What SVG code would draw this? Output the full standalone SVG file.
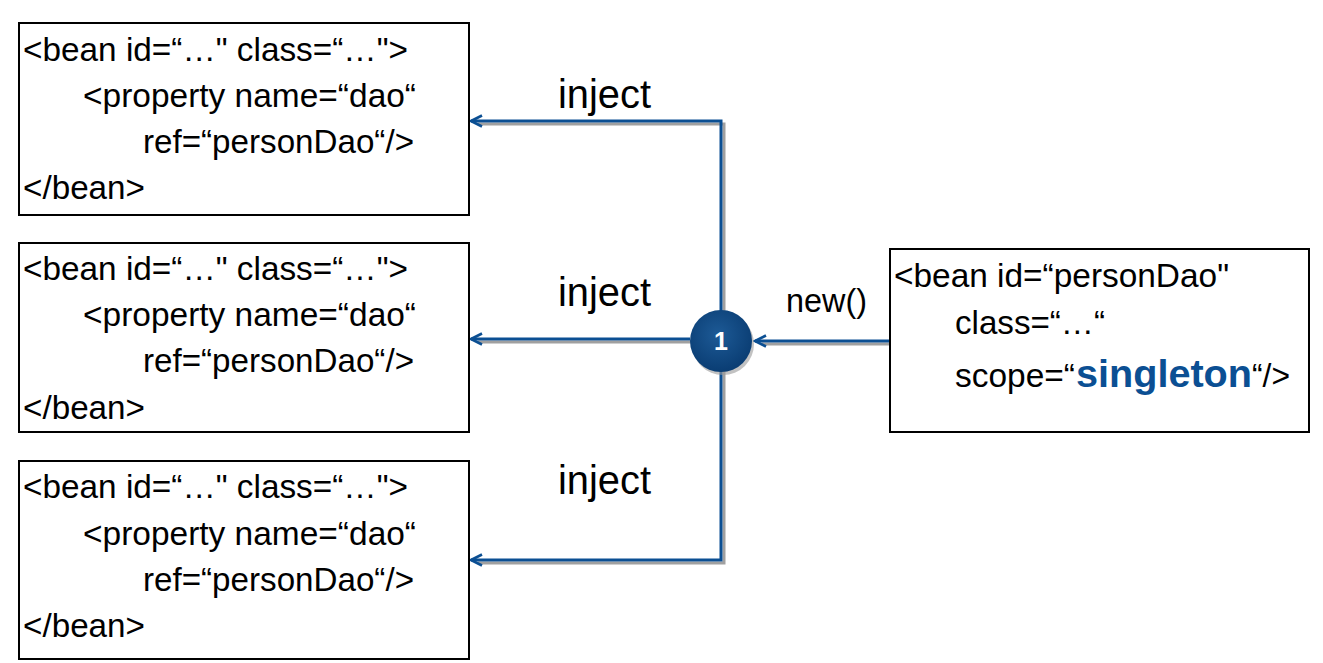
<svg xmlns="http://www.w3.org/2000/svg" width="1323" height="663" viewBox="0 0 1323 663">
<defs>
<style>
.box{fill:#fff;stroke:#000;stroke-width:2}
.t{font-family:"Liberation Sans",Arial,sans-serif;font-size:33px;fill:#000}
.lbl{font-family:"Liberation Sans",Arial,sans-serif;font-size:40px;fill:#000}
.ln{fill:none;stroke:#0b4f93;stroke-width:3}
.sh{fill:none;stroke:#a0a0a0;stroke-width:3}
</style>
<marker id="ah" viewBox="0 0 14 14" refX="12" refY="7" markerWidth="14" markerHeight="14" markerUnits="userSpaceOnUse" orient="auto">
<path d="M1,1.5 L12,7 L1,12.5" fill="none" stroke="#0b4f93" stroke-width="2.6"/>
</marker>
<radialGradient id="cg" cx="0.45" cy="0.4" r="0.6">
<stop offset="0" stop-color="#1d5a96"/>
<stop offset="1" stop-color="#0a3d73"/>
</radialGradient>
</defs>
<rect width="1323" height="663" fill="#fff"/>
<g id="connectors">
<path class="sh" d="M478,124 H724 V345"/>
<path class="sh" d="M478,342 H692"/>
<path class="sh" d="M724,345 V563 H478"/>
<path class="sh" d="M762,344 H890"/>
<path class="ln" d="M721,341 V121 H471" marker-end="url(#ah)"/>
<path class="ln" d="M690,339 H471" marker-end="url(#ah)"/>
<path class="ln" d="M721,341 V560 H471" marker-end="url(#ah)"/>
<path class="ln" d="M890,341 H755" marker-end="url(#ah)"/>
<text class="lbl" x="558" y="108" textLength="93" lengthAdjust="spacingAndGlyphs">inject</text>
<text class="lbl" x="558" y="306" textLength="93" lengthAdjust="spacingAndGlyphs">inject</text>
<text class="lbl" x="558" y="494" textLength="93" lengthAdjust="spacingAndGlyphs">inject</text>
<text class="t" x="786" y="312" textLength="81" lengthAdjust="spacingAndGlyphs">new()</text>
</g>
<g id="node-circle">
<circle cx="723" cy="344" r="31" fill="#9a9a9a" opacity="0.6"/>
<circle cx="721" cy="341" r="31" fill="url(#cg)"/>
<text x="721" y="350" text-anchor="middle" font-family="Liberation Sans,Arial,sans-serif" font-size="25" font-weight="bold" fill="#fff">1</text>
</g>
<g id="node-bean1">
<rect class="box" x="19" y="23" width="450" height="192"/>
<text class="t" x="23" y="61" textLength="385" lengthAdjust="spacingAndGlyphs">&lt;bean id=“…" class=“…"&gt;</text>
<text class="t" x="83" y="107" textLength="333" lengthAdjust="spacingAndGlyphs">&lt;property name=“dao“</text>
<text class="t" x="143" y="153" textLength="271" lengthAdjust="spacingAndGlyphs">ref=“personDao“/&gt;</text>
<text class="t" x="23" y="199" textLength="122" lengthAdjust="spacingAndGlyphs">&lt;/bean&gt;</text>
</g>
<g id="node-bean2">
<rect class="box" x="19" y="243" width="450" height="189"/>
<text class="t" x="23" y="280" textLength="385" lengthAdjust="spacingAndGlyphs">&lt;bean id=“…" class=“…"&gt;</text>
<text class="t" x="83" y="326" textLength="333" lengthAdjust="spacingAndGlyphs">&lt;property name=“dao“</text>
<text class="t" x="143" y="372" textLength="271" lengthAdjust="spacingAndGlyphs">ref=“personDao“/&gt;</text>
<text class="t" x="23" y="419" textLength="122" lengthAdjust="spacingAndGlyphs">&lt;/bean&gt;</text>
</g>
<g id="node-bean3">
<rect class="box" x="19" y="461" width="450" height="198"/>
<text class="t" x="23" y="498" textLength="385" lengthAdjust="spacingAndGlyphs">&lt;bean id=“…" class=“…"&gt;</text>
<text class="t" x="83" y="545" textLength="333" lengthAdjust="spacingAndGlyphs">&lt;property name=“dao“</text>
<text class="t" x="143" y="591" textLength="271" lengthAdjust="spacingAndGlyphs">ref=“personDao“/&gt;</text>
<text class="t" x="23" y="637" textLength="122" lengthAdjust="spacingAndGlyphs">&lt;/bean&gt;</text>
</g>
<g id="node-personDao">
<rect class="box" x="890" y="249" width="419" height="183"/>
<text class="t" x="894" y="287" textLength="335" lengthAdjust="spacingAndGlyphs">&lt;bean id=“personDao"</text>
<text class="t" x="955" y="334" textLength="150" lengthAdjust="spacingAndGlyphs">class=“…“</text>
<text class="t" x="955" y="387" textLength="120" lengthAdjust="spacingAndGlyphs">scope=“</text>
<text x="1076" y="387" font-family="Liberation Sans,Arial,sans-serif" font-size="39" font-weight="bold" fill="#0b4f93" textLength="176" lengthAdjust="spacingAndGlyphs">singleton</text>
<text class="t" x="1252" y="387" textLength="38" lengthAdjust="spacingAndGlyphs">“/&gt;</text>
</g>
</svg>
